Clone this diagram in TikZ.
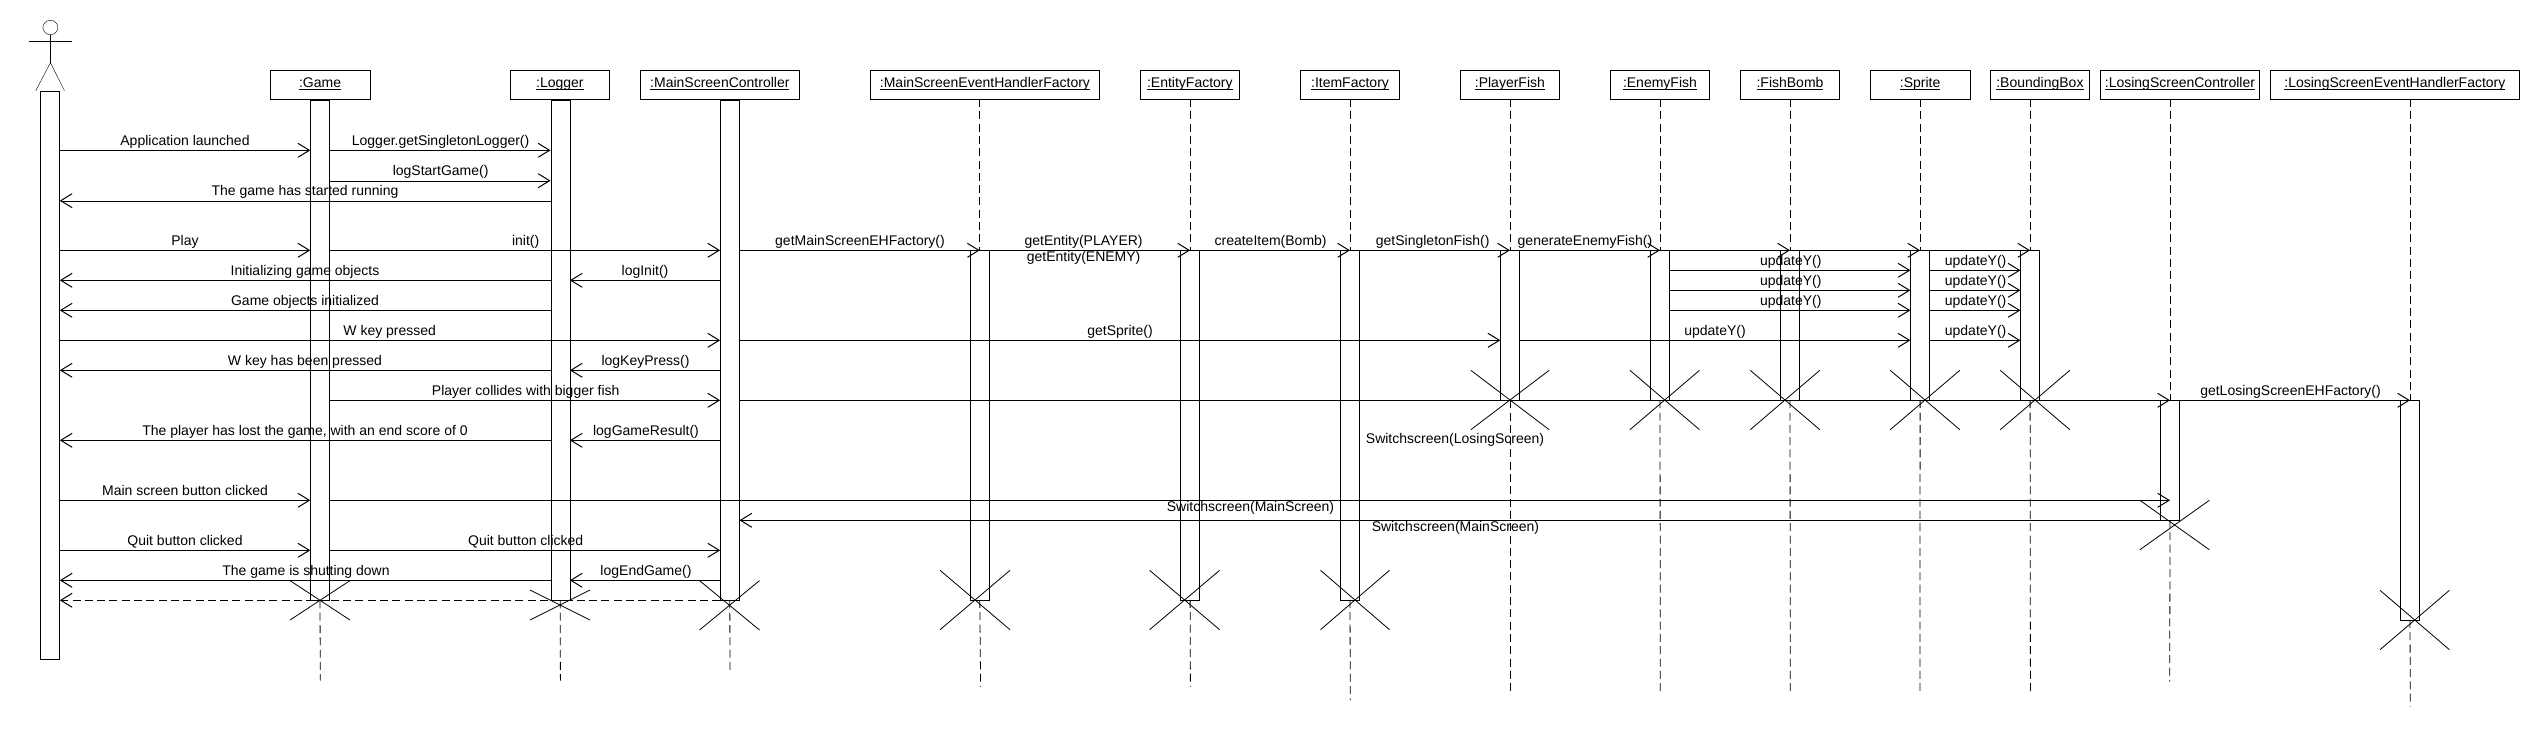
\documentclass[tikz,border=0pt]{standalone}
\usepackage{fontspec}
\setmainfont{Liberation Sans}
\usetikzlibrary{arrows.meta,calc,shapes.geometric}
\tikzset{
  x=1pt,y=1pt,
  line width=1pt,
  head/.style={draw,inner sep=0pt,font=\fontsize{14}{16}\selectfont,anchor=center,minimum height=28.6pt},
  actbar/.style={draw,inner sep=0pt,minimum width=19pt,anchor=north},
  msgline/.style={-{Straight Barb[length=11.4pt,width=14pt,line width=1pt]}},
  retline/.style={msgline,dash pattern=on 8pt off 4.3pt},
  lifeline/.style={line width=.8pt,dash pattern=on 8pt off 4.3pt},
  lbl/.style={inner sep=0pt,anchor=base,font=\fontsize{14}{16}\selectfont},
  kill/.style={line width=.8pt},
}
% underlined header text with fixed baseline and rule position
\newcommand{\hul}[1]{\raisebox{-3pt}[0pt][0pt]{\vtop{\hbox{\smash{#1}}\kern1.6pt\hrule height .9pt}}}
% header box: name, left, right, text
\newcommand{\hdr}[4]{\node[head,minimum width=#3pt-#2pt] (#1) at ({(#2+#3)/2},-84.5) {\hul{#4}};}
% activation bar: name, x, top, bottom
\newcommand{\actbox}[4]{\node[actbar,minimum height=#4pt-#3pt] (#1) at (#2,-#3) {};}
% message: style, from, to, y
\newcommand{\msg}[4]{\draw[#1] (#2 |- 0,-#4) -- (#3 |- 0,-#4);}
% label: name, x, baseline y, text
\newcommand{\lab}[4]{\node[lbl] (#1) at (#2,-#3) {#4};}
% destruction mark: name, cx, cy, half-width, half-height
\newcommand{\xmark}[5]{\coordinate (#1a) at (#2-#4,-#3+#5);\coordinate (#1b) at (#2+#4,-#3-#5);\coordinate (#1c) at (#2-#4,-#3-#5);\coordinate (#1d) at (#2+#4,-#3+#5);
  \draw[kill] (#1a) -- (#1b) (#1c) -- (#1d);}
\begin{document}
\begin{tikzpicture}
\useasboundingbox (0,0) rectangle (2540,-750);
% actor
\node[draw,ellipse,inner sep=0pt,minimum width=15pt,minimum height=14.4pt] (ahead) at (50.4,-27.5) {};
\coordinate (ahip) at (50.4,-62.7);
\coordinate (aarmL) at (28.7,-41.3);
\coordinate (aarmR) at (71.5,-41.3);
\coordinate (alegL) at (35.8,-90.7);
\coordinate (alegR) at (64.5,-90.7);
\draw (ahead.south) -- (ahip);
\draw (aarmL) -- (aarmR);
\draw (alegL) -- (ahip) -- (alegR);
\actbox{ab}{50.1}{90.5}{659.3}
% headers
\hdr{hGame}{270.5}{369.7}{:Game}
\hdr{hLog}{510.6}{609.2}{:Logger}
\hdr{hMsc}{640.2}{799.5}{:MainScreenController}
\hdr{hMeh}{870.6}{1099.3}{:MainScreenEventHandlerFactory}
\hdr{hEnt}{1140.5}{1239.2}{:EntityFactory}
\hdr{hItem}{1300.4}{1399.6}{:ItemFactory}
\hdr{hPf}{1460.3}{1559.5}{:PlayerFish}
\hdr{hEf}{1610.4}{1709.5}{:EnemyFish}
\hdr{hBomb}{1740.4}{1839.6}{:FishBomb}
\hdr{hSpr}{1870.5}{1969.7}{:Sprite}
\hdr{hBb}{1990.3}{2089.5}{:BoundingBox}
\hdr{hLsc}{2100.3}{2259.6}{:LosingScreenController}
\hdr{hLeh}{2270.5}{2519.3}{:LosingScreenEventHandlerFactory}
% activation bars
\actbox{bGame}{320}{99.5}{600}
\actbox{bLog}{560.2}{99.5}{600}
\actbox{bMsc}{729.8}{99.5}{600}
\actbox{bMeh}{979.8}{250.3}{599.5}
\actbox{bEnt}{1190.1}{250.3}{599.5}
\actbox{bItem}{1350}{250.3}{599.5}
\actbox{bPf}{1510}{250.3}{399.8}
\actbox{bEf}{1660}{250.3}{399.8}
\actbox{bBomb}{1790}{250.3}{399.8}
\actbox{bSpr}{1920.1}{250.3}{399.8}
\actbox{bBb}{2030.1}{250.3}{399.8}
\actbox{bLsc}{2170}{400.3}{519.5}
\actbox{bLeh}{2410}{400.3}{619.5}
% lifelines
\foreach \b/\h in {bMeh/hMeh,bEnt/hEnt,bItem/hItem,bPf/hPf,bEf/hEf,bBomb/hBomb,bSpr/hSpr,bBb/hBb,bLsc/hLsc,bLeh/hLeh}{
  \draw[lifeline] (\b.north |- \h.south) -- (\b.north);
}
\coordinate (eGame) at (320.3,-680.7);
\coordinate (eLog) at (560.4,-680.7);
\coordinate (eMsc) at (730,-670.7);
\coordinate (eMeh) at (980.6,-686.7);
\coordinate (eEnt) at (1190.4,-686.7);
\coordinate (eItem) at (1350.3,-700);
\coordinate (ePf) at (1510,-691.7);
\coordinate (eEf) at (1660.3,-691.7);
\coordinate (eBomb) at (1790.3,-691.7);
\coordinate (eSpr) at (1920,-691.7);
\coordinate (eBb) at (2030.4,-691.7);
\coordinate (eLsc) at (2169.7,-681.7);
\coordinate (eLeh) at (2410.3,-706.7);
\foreach \b/\e in {bGame/eGame,bLog/eLog,bMsc/eMsc,bMeh/eMeh,bEnt/eEnt,bItem/eItem,bPf/ePf,bEf/eEf,bBomb/eBomb,bSpr/eSpr,bBb/eBb,bLsc/eLsc,bLeh/eLeh}{
  \draw[lifeline] (\b.south) -- (\e);
}
% destruction marks
\xmark{xGame}{320}{600.3}{30}{19.7}
\xmark{xLog}{560}{605}{30}{15}
\xmark{xMsc}{729.5}{605.3}{30}{24.7}
\xmark{xMeh}{975}{600}{35}{29.7}
\xmark{xEnt}{1184.6}{600}{35}{29.7}
\xmark{xItem}{1355}{600}{34.5}{29.7}
\xmark{xPf}{1510}{400}{39.2}{29.7}
\xmark{xEf}{1664.7}{400}{34.8}{29.7}
\xmark{xBomb}{1785}{400}{34.8}{29.7}
\xmark{xSpr}{1925}{400}{34.8}{29.7}
\xmark{xBb}{2035}{400}{34.8}{29.7}
\xmark{xLsc}{2174.6}{525}{34.7}{24.7}
\xmark{xLeh}{2414.7}{620}{34.7}{29.7}
% messages
\msg{msgline}{ab.east}{bGame.west}{150.3}
\msg{msgline}{bGame.east}{bLog.west}{150.3}
\msg{msgline}{bGame.east}{bLog.west}{180.7}
\msg{msgline}{bLog.west}{ab.east}{200.7}
\msg{msgline}{ab.east}{bGame.west}{250.3}
\msg{msgline}{bGame.east}{bMsc.west}{250.3}
\msg{msgline}{bMsc.east}{bMeh.north}{250.3}
\msg{msgline}{bMeh.east}{bEnt.north}{250.3}
\msg{msgline}{bEnt.east}{bItem.north}{250.3}
\msg{msgline}{bItem.east}{bPf.north}{250.3}
\msg{msgline}{bPf.east}{bEf.north}{250.3}
\msg{msgline}{bEf.east}{bBomb.north}{250.3}
\msg{msgline}{bBomb.north}{bSpr.north}{250.3}
\msg{msgline}{bSpr.east}{bBb.north}{250.3}
\msg{msgline}{bMsc.west}{bLog.east}{280.3}
\msg{msgline}{bLog.west}{ab.east}{280.3}
\msg{msgline}{bLog.west}{ab.east}{310.3}
\foreach \y in {270.3,290.3,310.3}{
  \msg{msgline}{bEf.east}{bSpr.west}{\y}
  \msg{msgline}{bSpr.east}{bBb.west}{\y}
}
\msg{msgline}{ab.east}{bMsc.west}{340.3}
\msg{msgline}{bMsc.east}{bPf.west}{340.3}
\msg{msgline}{bPf.east}{bSpr.west}{340.3}
\msg{msgline}{bSpr.east}{bBb.west}{340.3}
\msg{msgline}{bMsc.west}{bLog.east}{370.3}
\msg{msgline}{bLog.west}{ab.east}{370.3}
\msg{msgline}{bGame.east}{bMsc.west}{400.3}
\msg{msgline}{bMsc.east}{bLsc.north}{400.3}
\msg{msgline}{bLsc.east}{bLeh.north}{400.3}
\msg{msgline}{bMsc.west}{bLog.east}{440.3}
\msg{msgline}{bLog.west}{ab.east}{440.3}
\msg{msgline}{ab.east}{bGame.west}{500.3}
\msg{msgline}{bGame.east}{bLsc.north}{500.3}
\msg{msgline}{bLsc.west}{bMsc.east}{520.3}
\msg{msgline}{ab.east}{bGame.west}{550.3}
\msg{msgline}{bGame.east}{bMsc.west}{550.3}
\msg{msgline}{bMsc.west}{bLog.east}{580.3}
\msg{msgline}{bLog.west}{ab.east}{580.3}
\msg{retline}{bMsc.west}{ab.east}{600.3}
% labels
\lab{t1}{185}{145.8}{Application launched}
\lab{t2}{440.6}{145.8}{Logger.getSingletonLogger()}
\lab{t3}{440.6}{175.8}{logStartGame()}
\lab{t4}{305}{195.8}{The game has started running}
\lab{t5}{185}{245.8}{Play}
\lab{t6}{525.7}{245.8}{init()}
\lab{t7}{860}{245.8}{getMainScreenEHFactory()}
\lab{t8}{1083.6}{245.8}{getEntity(PLAYER)}
\lab{t9}{1083.6}{261.8}{getEntity(ENEMY)}
\lab{t10}{1270.6}{245.8}{createItem(Bomb)}
\lab{t11}{1432.7}{245.8}{getSingletonFish()}
\lab{t12}{1585}{245.8}{generateEnemyFish()}
\lab{t13}{305}{275.8}{Initializing game objects}
\lab{t14}{645}{275.8}{logInit()}
\lab{t15}{305}{305.8}{Game objects initialized}
\lab{t16}{389.7}{335.8}{W key pressed}
\lab{t17}{1120}{335.8}{getSprite()}
\lab{t18}{1715}{335.8}{updateY()}
\lab{t19}{1975.6}{335.8}{updateY()}
\lab{t20}{1790.8}{265.8}{updateY()}
\lab{t21}{1975.6}{265.8}{updateY()}
\lab{t22}{1790.8}{285.8}{updateY()}
\lab{t23}{1975.6}{285.8}{updateY()}
\lab{t24}{1790.8}{305.8}{updateY()}
\lab{t25}{1975.6}{305.8}{updateY()}
\lab{t26}{305}{365.8}{W key has been pressed}
\lab{t27}{645.5}{365.8}{logKeyPress()}
\lab{t28}{525.7}{395.8}{Player collides with bigger fish}
\lab{t29}{2290.5}{395.8}{getLosingScreenEHFactory()}
\lab{t30}{305}{435.8}{The player has lost the game, with an end score of 0}
\lab{t31}{646}{435.8}{logGameResult()}
\lab{t32}{1455}{443.8}{Switchscreen(LosingScreen)}
\lab{t33}{185}{495.8}{Main screen button clicked}
\lab{t34}{1250.5}{511.8}{Switchscreen(MainScreen)}
\lab{t35}{1455.4}{531.8}{Switchscreen(MainScreen)}
\lab{t36}{185}{545.8}{Quit button clicked}
\lab{t37}{525.7}{545.8}{Quit button clicked}
\lab{t38}{306}{575.8}{The game is shutting down}
\lab{t39}{646}{575.8}{logEndGame()}
\end{tikzpicture}
\end{document}
